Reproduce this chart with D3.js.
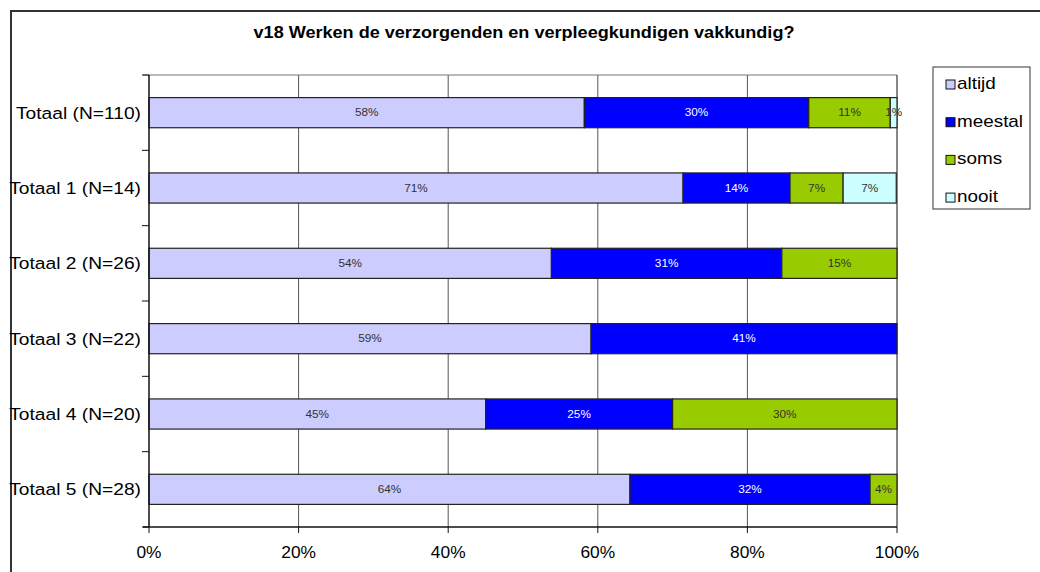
<!DOCTYPE html>
<html lang="nl">
<head>
  <meta charset="utf-8" />
  <title>v18 Werken de verzorgenden en verpleegkundigen vakkundig?</title>
  <script src="https://cdn.jsdelivr.net/npm/d3@7/dist/d3.min.js"></script>
  <style>
    html,body{margin:0;padding:0;background:#fff;}
    svg{display:block;font-family:"Liberation Sans",Arial,sans-serif;}
  </style>
</head>
<body>
<svg id="chart" width="1040" height="572"></svg>
<script>
// data (percentages per group)
const categories = ['Totaal (N=110)','Totaal 1 (N=14)','Totaal 2 (N=26)','Totaal 3 (N=22)','Totaal 4 (N=20)','Totaal 5 (N=28)'];
const seriesNames = ['altijd','meestal','soms','nooit'];
const altijd  = [58.2, 71.4, 53.8, 59.1, 45.0, 64.3];
const meestal = [30.0, 14.3, 30.8, 40.9, 25.0, 32.1];
const soms    = [10.9,  7.1, 15.4,  0.0, 30.0,  3.6];
const nooit   = [ 0.9,  7.1,  0.0,  0.0,  0.0,  0.0];
const xTicks  = [0, 20, 40, 60, 80, 100];
const colors  = ['#ccccff','#0000ff','#99cc00','#ccffff'];
const labelColors = ['#333','#fff','#333','#333'];

const rows = categories.map((c,i)=>({cat:c, altijd:altijd[i], meestal:meestal[i], soms:soms[i], nooit:nooit[i]}));
const stack = d3.stack().keys(seriesNames)(rows);

const svg = d3.select('#chart');
const m = {left:149, right:897, top:75, bottom:527};

// the original text is a bit wider than Liberation Sans -> stretch horizontally
const at = (x,y,sx)=>`translate(${x},${y}) scale(${sx},1)`;

// outer frame
svg.append('rect').attr('x',11).attr('y',11).attr('width',1040).attr('height',580)
  .attr('fill','none').attr('stroke','#333').attr('stroke-width',2);

svg.append('text').attr('transform',at(524,38,1.13)).attr('text-anchor','middle')
  .attr('font-size',16).attr('font-weight','bold').text('v18 Werken de verzorgenden en verpleegkundigen vakkundig?');

const x = d3.scaleLinear().domain([0,100]).range([m.left,m.right]);
const y = d3.scaleBand().domain(categories).range([m.top,m.bottom]).paddingInner(0.6).paddingOuter(0.3);

// gridlines
svg.append('g').selectAll('line').data(xTicks.slice(1,-1)).join('line')
  .attr('x1',d=>x(d)).attr('x2',d=>x(d)).attr('y1',m.top).attr('y2',m.bottom)
  .attr('stroke','#555').attr('stroke-width',1);
// plot frame top + right
svg.append('line').attr('x1',143).attr('x2',m.right).attr('y1',m.top).attr('y2',m.top).attr('stroke','#777');
svg.append('line').attr('x1',m.right).attr('x2',m.right).attr('y1',m.top).attr('y2',m.bottom).attr('stroke','#111');

// bars
const layer = svg.append('g').selectAll('g').data(stack).join('g');
layer.selectAll('rect').data(d=>d.map(v=>({v, key:d.key}))).join('rect')
  .attr('x',d=>x(d.v[0])).attr('width',d=>x(d.v[1])-x(d.v[0]))
  .attr('y',d=>y(d.v.data.cat)).attr('height',y.bandwidth())
  .attr('fill',d=>colors[seriesNames.indexOf(d.key)])
  .attr('stroke',d=>d.v[1]-d.v[0]>0?'#222':'none').attr('stroke-width',1.2);
layer.selectAll('text').data(d=>d.map(v=>({v, key:d.key})).filter(d=>d.v[1]-d.v[0]>0)).join('text')
  .attr('transform',d=>at(x((d.v[0]+d.v[1])/2), y(d.v.data.cat)+y.bandwidth()/2+3.8, 1.12))
  .attr('text-anchor','middle').attr('font-size',10.5)
  .attr('fill',d=>labelColors[seriesNames.indexOf(d.key)])
  .text(d=>Math.round(d.v[1]-d.v[0])+'%');

// y axis
const band = (m.bottom-m.top)/categories.length;
const yAxis = svg.append('g');
yAxis.append('line').attr('x1',m.left).attr('x2',m.left).attr('y1',m.top).attr('y2',m.bottom).attr('stroke','#111').attr('stroke-width',1.5);
yAxis.selectAll('line.t').data(d3.range(categories.length+1)).join('line').attr('class','t')
  .attr('x1',142).attr('x2',m.left).attr('y1',i=>m.top+i*band).attr('y2',i=>m.top+i*band).attr('stroke','#111');
yAxis.selectAll('text').data(categories).join('text')
  .attr('transform',d=>at(141, y(d)+y.bandwidth()/2+6, 1.13)).attr('text-anchor','end')
  .attr('font-size',17).text(d=>d);

// x axis
const xAxis = svg.append('g');
xAxis.append('line').attr('x1',143).attr('x2',m.right).attr('y1',m.bottom).attr('y2',m.bottom).attr('stroke','#111').attr('stroke-width',1.5);
xAxis.selectAll('line.t').data(xTicks).join('line').attr('class','t')
  .attr('x1',d=>x(d)).attr('x2',d=>x(d)).attr('y1',m.bottom).attr('y2',m.bottom+6).attr('stroke','#111');
xAxis.selectAll('text').data(xTicks).join('text')
  .attr('transform',d=>at(x(d),558,1.02)).attr('text-anchor','middle').attr('font-size',17).text(d=>d+'%');

// legend
const lg = svg.append('g');
lg.append('rect').attr('x',933).attr('y',67).attr('width',97).attr('height',142).attr('fill','#fff').attr('stroke','#333');
const li = lg.selectAll('g').data(seriesNames).join('g').attr('transform',(d,i)=>`translate(946,${84.5+i*37.7})`);
li.append('rect').attr('x',0).attr('y',-4.5).attr('width',9).attr('height',9).attr('fill',(d,i)=>colors[i]).attr('stroke','#111');
li.append('text').attr('transform',at(11,4.5,1.18)).attr('font-size',16).text(d=>d);
</script>
</body>
</html>
